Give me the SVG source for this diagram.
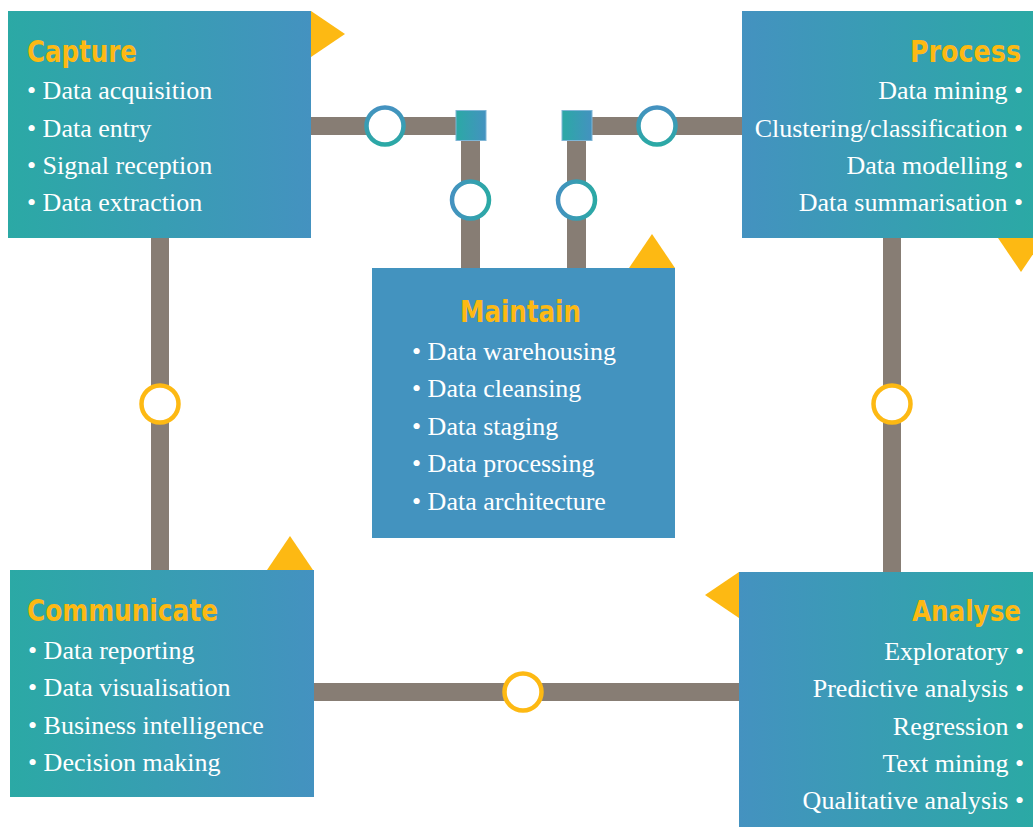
<svg xmlns="http://www.w3.org/2000/svg" width="1033" height="827" viewBox="0 0 1033 827">
  <defs>
    <linearGradient id="tealToBlue" x1="0" y1="0" x2="1" y2="0">
      <stop offset="0" stop-color="#2BA9A5"/>
      <stop offset="1" stop-color="#4492C0"/>
    </linearGradient>
    <linearGradient id="blueToTeal" x1="0" y1="0" x2="1" y2="0">
      <stop offset="0" stop-color="#4492C0"/>
      <stop offset="1" stop-color="#2BA9A5"/>
    </linearGradient>
    <linearGradient id="ringV" x1="0" y1="0" x2="0" y2="1">
      <stop offset="0" stop-color="#4492C0"/>
      <stop offset="1" stop-color="#2BA9A5"/>
    </linearGradient>
    <linearGradient id="ringH" x1="0" y1="0" x2="1" y2="0">
      <stop offset="0" stop-color="#4492C0"/>
      <stop offset="1" stop-color="#2BA9A5"/>
    </linearGradient>
    <style>
      .bar { fill: #877D74; }
      .ring-y { fill: #FFFFFF; stroke: #FDB913; stroke-width: 4.5; }
      .ring-v { fill: #FFFFFF; stroke: url(#ringV); stroke-width: 4.5; }
      .ring-h { fill: #FFFFFF; stroke: url(#ringH); stroke-width: 4.5; }
      .joint { fill: url(#tealToBlue); stroke: #7FB6D6; stroke-width: 1; }
      .flag { fill: #FDB913; }
      .title { font-family: "DejaVu Sans Condensed", "DejaVu Sans", sans-serif; font-weight: bold; font-size: 30px; fill: #FDB913; }
      .title-sm { font-size: 28px; }
      .item { font-family: "Liberation Serif", "Times New Roman", serif; font-size: 26px; fill: #FFFFFF; }
      .end { text-anchor: end; }
    </style>
  </defs>

  <rect width="1033" height="827" fill="#FFFFFF"/>

  <!-- connectors: bars, junction squares and ring markers -->
  <g id="connectors">
    <rect class="bar" x="305" y="117" width="155" height="18"/>
    <rect class="bar" x="461" y="135" width="19" height="138"/>
    <rect class="bar" x="588" y="117" width="160" height="18"/>
    <rect class="bar" x="567" y="135" width="19" height="138"/>
    <rect class="bar" x="151" y="232" width="18" height="344"/>
    <rect class="bar" x="883" y="232" width="18" height="346"/>
    <rect class="bar" x="308" y="683" width="437" height="18"/>

    <rect class="joint" x="456" y="110.5" width="30" height="30"/>
    <rect class="joint" x="562" y="110.5" width="30" height="30"/>

    <circle class="ring-v" cx="385" cy="126" r="18.5"/>
    <circle class="ring-v" cx="657" cy="126" r="18.5"/>
    <circle class="ring-h" cx="470.5" cy="200" r="18.5"/>
    <circle class="ring-h" cx="576.5" cy="200" r="18.5"/>

    <circle class="ring-y" cx="160" cy="404" r="18.5"/>
    <circle class="ring-y" cx="892" cy="404" r="18.5"/>
    <circle class="ring-y" cx="523" cy="692" r="18.5"/>
  </g>

  <!-- Capture -->
  <g id="capture">
    <rect x="8" y="11" width="303" height="227" fill="url(#tealToBlue)"/>
    <polygon class="flag" points="311,11 345,34 311,57"/>
    <text class="title" x="27" y="62" textLength="110" lengthAdjust="spacingAndGlyphs">Capture</text>
    <text class="item" x="27" y="99">• Data acquisition</text>
    <text class="item" x="27" y="137">• Data entry</text>
    <text class="item" x="27" y="174">• Signal reception</text>
    <text class="item" x="27" y="211">• Data extraction</text>
  </g>

  <!-- Process -->
  <g id="process">
    <rect x="742" y="11" width="291" height="227" fill="url(#blueToTeal)"/>
    <polygon class="flag" points="998,238 1044,238 1021,272"/>
    <text class="title" x="910" y="62" textLength="111" lengthAdjust="spacingAndGlyphs">Process</text>
    <text class="item end" x="1023" y="99">Data mining •</text>
    <text class="item end" x="1023" y="137">Clustering/classification •</text>
    <text class="item end" x="1023" y="174">Data modelling •</text>
    <text class="item end" x="1023" y="211">Data summarisation •</text>
  </g>

  <!-- Maintain -->
  <g id="maintain">
    <rect x="372" y="268" width="303" height="270" fill="#4393BF"/>
    <polygon class="flag" points="629,268 652,234 675,268"/>
    <text class="title" x="460" y="322" textLength="121" lengthAdjust="spacingAndGlyphs">Maintain</text>
    <text class="item" x="412" y="360">• Data warehousing</text>
    <text class="item" x="412" y="397">• Data cleansing</text>
    <text class="item" x="412" y="435">• Data staging</text>
    <text class="item" x="412" y="472">• Data processing</text>
    <text class="item" x="412" y="510">• Data architecture</text>
  </g>

  <!-- Communicate -->
  <g id="communicate">
    <rect x="10" y="570" width="304" height="227" fill="url(#tealToBlue)"/>
    <polygon class="flag" points="267,570 290,536 313,570"/>
    <text class="title" x="27" y="621" textLength="191" lengthAdjust="spacingAndGlyphs">Communicate</text>
    <text class="item" x="28" y="659">• Data reporting</text>
    <text class="item" x="28" y="696">• Data visualisation</text>
    <text class="item" x="28" y="734">• Business intelligence</text>
    <text class="item" x="28" y="771">• Decision making</text>
  </g>

  <!-- Analyse -->
  <g id="analyse">
    <rect x="739" y="572" width="294" height="255" fill="url(#blueToTeal)"/>
    <polygon class="flag" points="739,572 705,595 739,618"/>
    <text class="title title-sm" x="912" y="621" textLength="109" lengthAdjust="spacingAndGlyphs">Analyse</text>
    <text class="item end" x="1024" y="660">Exploratory •</text>
    <text class="item end" x="1024" y="697">Predictive analysis •</text>
    <text class="item end" x="1024" y="735">Regression •</text>
    <text class="item end" x="1024" y="772">Text mining •</text>
    <text class="item end" x="1024" y="809">Qualitative analysis •</text>
  </g>
</svg>
